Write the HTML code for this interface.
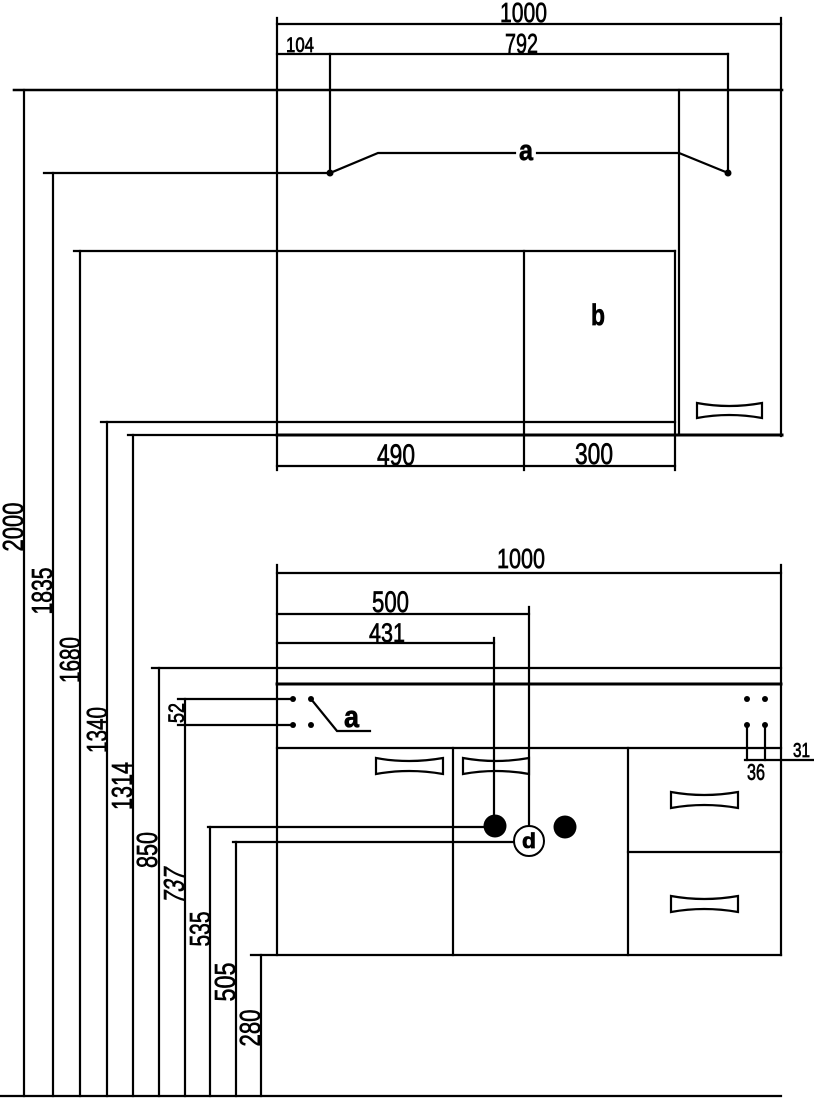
<!DOCTYPE html>
<html>
<head>
<meta charset="utf-8">
<style>
html,body{margin:0;padding:0;background:#fff;}
svg{display:block;}
text{font-family:"Liberation Sans",Arial,sans-serif;fill:#000;stroke:#000;stroke-width:0.7;}
</style>
</head>
<body>
<svg width="814" height="1098" viewBox="0 0 814 1098" xmlns="http://www.w3.org/2000/svg">
<g stroke="#000" stroke-width="2.2" fill="none" stroke-linecap="square">
  <!-- ===== UPPER SECTION ===== -->
  <line x1="277" y1="24" x2="781" y2="24"/>
  <line x1="277" y1="18" x2="277" y2="470"/>
  <line x1="781" y1="18" x2="781" y2="436"/>
  <line x1="277" y1="54" x2="728" y2="54"/>
  <line x1="330" y1="54" x2="330" y2="173"/>
  <line x1="728" y1="54" x2="728" y2="173"/>
  <line x1="14" y1="90" x2="782" y2="90" stroke-width="2.6"/>
  <line x1="24" y1="90" x2="24" y2="1096"/>
  <line x1="44" y1="173" x2="330" y2="173"/>
  <line x1="53" y1="173" x2="53" y2="1096"/>
  <polyline points="330,173 378,153 515,153"/>
  <polyline points="537,153 679,153 728,173"/>
  <line x1="679" y1="90" x2="679" y2="435"/>
  <line x1="74" y1="251" x2="675" y2="251"/>
  <line x1="80" y1="251" x2="80" y2="1096"/>
  <line x1="524" y1="251" x2="524" y2="470"/>
  <line x1="675" y1="251" x2="675" y2="470"/>
  <line x1="101" y1="422" x2="675" y2="422"/>
  <line x1="107" y1="422" x2="107" y2="1096"/>
  <line x1="128" y1="435" x2="277" y2="435"/>
  <line x1="277" y1="435" x2="782" y2="435" stroke-width="3"/>
  <line x1="133" y1="435" x2="133" y2="1096"/>
  <line x1="277" y1="466" x2="675" y2="466"/>
  <path d="M697,403 Q729,409 762,403 L762,418 Q729,412 697,418 Z" stroke-width="2.2"/>

  <!-- ===== LOWER SECTION ===== -->
  <line x1="277" y1="573" x2="781" y2="573"/>
  <line x1="277" y1="565" x2="277" y2="955"/>
  <line x1="781" y1="565" x2="781" y2="955"/>
  <line x1="277" y1="614" x2="529" y2="614"/>
  <line x1="529" y1="607" x2="529" y2="826"/>
  <line x1="277" y1="643" x2="494" y2="643"/>
  <line x1="494" y1="638" x2="494" y2="816"/>
  <line x1="152" y1="668" x2="781" y2="668"/>
  <line x1="159" y1="668" x2="159" y2="1096"/>
  <line x1="277" y1="684" x2="781" y2="684" stroke-width="3"/>
  <line x1="178" y1="699" x2="293" y2="699"/>
  <line x1="178" y1="725" x2="293" y2="725"/>
  <line x1="185" y1="699" x2="185" y2="1096"/>
  <polyline points="311,699 337,731 370,731"/>
  <line x1="747" y1="725" x2="747" y2="760"/>
  <line x1="765" y1="725" x2="765" y2="760"/>
  <line x1="745" y1="760" x2="813" y2="760"/>
  <line x1="277" y1="748" x2="781" y2="748"/>
  <line x1="453" y1="748" x2="453" y2="955"/>
  <line x1="628" y1="748" x2="628" y2="955"/>
  <line x1="628" y1="852" x2="781" y2="852"/>
  <line x1="251" y1="955" x2="781" y2="955"/>
  <line x1="261" y1="955" x2="261" y2="1096"/>
  <line x1="208" y1="827" x2="484" y2="827"/>
  <line x1="210" y1="827" x2="210" y2="1096"/>
  <line x1="233" y1="842" x2="514" y2="842"/>
  <line x1="236" y1="842" x2="236" y2="1096"/>
  <line x1="0" y1="1096" x2="781" y2="1096"/>
  <path d="M376,758 Q409,764 443,758 L443,774 Q409,768 376,774 Z" stroke-width="2.2"/>
  <path d="M463,758 Q496,764 529,758 L529,774 Q496,768 463,774 Z" stroke-width="2.2"/>
  <path d="M671,792 Q704,798 738,792 L738,808 Q704,802 671,808 Z" stroke-width="2.2"/>
  <path d="M671,896 Q704,902 738,896 L738,912 Q704,906 671,912 Z" stroke-width="2.2"/>
</g>

<g fill="#000">
  <circle cx="330" cy="173" r="3.5"/>
  <circle cx="728" cy="173" r="3.5"/>
  <circle cx="293" cy="699" r="3"/>
  <circle cx="293" cy="725" r="3"/>
  <circle cx="311" cy="699" r="3"/>
  <circle cx="311" cy="725" r="3"/>
  <circle cx="747" cy="699" r="3"/>
  <circle cx="765" cy="699" r="3"/>
  <circle cx="747" cy="725" r="3"/>
  <circle cx="765" cy="725" r="3"/>
  <circle cx="495" cy="826" r="11.5"/>
  <circle cx="565" cy="827" r="11.5"/>
</g>
<circle cx="529" cy="841" r="15" fill="#fff" stroke="#000" stroke-width="2"/>

<text x="500" y="22" font-size="28" textLength="47" lengthAdjust="spacingAndGlyphs">1000</text>
<text x="286" y="52" font-size="21" textLength="28" lengthAdjust="spacingAndGlyphs">104</text>
<text x="505" y="53" font-size="28" textLength="33" lengthAdjust="spacingAndGlyphs">792</text>
<text x="519" y="160" font-size="29" font-weight="bold" textLength="14" lengthAdjust="spacingAndGlyphs">a</text>
<text x="591" y="325" font-size="30" font-weight="bold" textLength="14" lengthAdjust="spacingAndGlyphs">b</text>
<text x="377" y="465" font-size="30" textLength="38" lengthAdjust="spacingAndGlyphs">490</text>
<text x="575" y="464" font-size="30" textLength="38" lengthAdjust="spacingAndGlyphs">300</text>
<text x="497" y="568" font-size="28" textLength="48" lengthAdjust="spacingAndGlyphs">1000</text>
<text x="372" y="612" font-size="30" textLength="37" lengthAdjust="spacingAndGlyphs">500</text>
<text x="369" y="642" font-size="27" textLength="36" lengthAdjust="spacingAndGlyphs">431</text>
<text x="344" y="727" font-size="31" font-weight="bold" textLength="15" lengthAdjust="spacingAndGlyphs">a</text>
<text x="522" y="848" font-size="21" font-weight="bold" textLength="14" lengthAdjust="spacingAndGlyphs">d</text>
<text x="747" y="780" font-size="23" textLength="18" lengthAdjust="spacingAndGlyphs">36</text>
<text x="793" y="757" font-size="20" textLength="17" lengthAdjust="spacingAndGlyphs">31</text>

<g font-size="29" text-anchor="middle">
  <text transform="translate(23,527) rotate(-90)" textLength="49" lengthAdjust="spacingAndGlyphs">2000</text>
  <text transform="translate(52,591) rotate(-90)" textLength="47" lengthAdjust="spacingAndGlyphs">1835</text>
  <text transform="translate(80,660) rotate(-90)" textLength="46" lengthAdjust="spacingAndGlyphs">1680</text>
  <text transform="translate(107,730) rotate(-90)" textLength="46" lengthAdjust="spacingAndGlyphs">1340</text>
  <text transform="translate(132,786) rotate(-90)" textLength="48" lengthAdjust="spacingAndGlyphs">1314</text>
  <text transform="translate(157,850) rotate(-90)" textLength="36" lengthAdjust="spacingAndGlyphs">850</text>
  <text transform="translate(184,887) rotate(-90) skewX(-12)" textLength="35" lengthAdjust="spacingAndGlyphs">737</text>
  <text transform="translate(210,929) rotate(-90)" textLength="35" lengthAdjust="spacingAndGlyphs">535</text>
  <text transform="translate(235,982) rotate(-90)" textLength="39" lengthAdjust="spacingAndGlyphs">505</text>
  <text transform="translate(260,1028) rotate(-90)" textLength="37" lengthAdjust="spacingAndGlyphs">280</text>
  <text transform="translate(184,713) rotate(-90)" font-size="22" textLength="20" lengthAdjust="spacingAndGlyphs">52</text>
</g>
</svg>
</body>
</html>
